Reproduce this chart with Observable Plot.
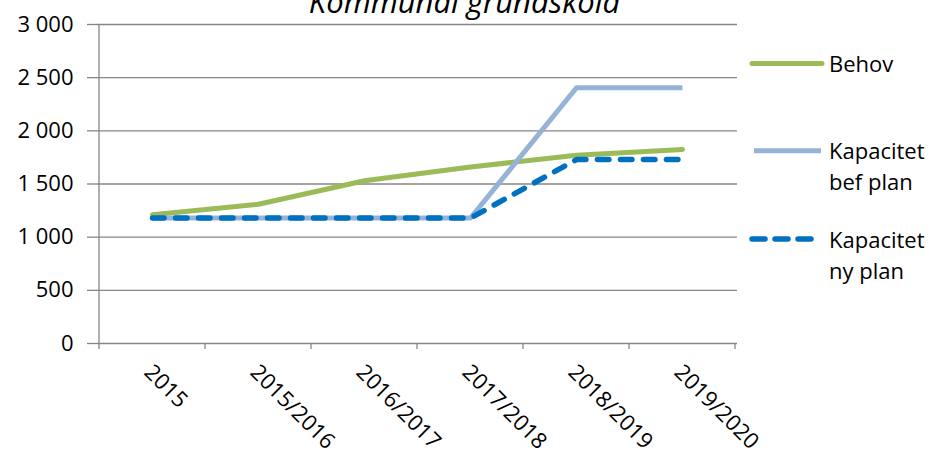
<!DOCTYPE html>
<html>
<head>
<meta charset="utf-8">
<script src="https://cdn.jsdelivr.net/npm/d3@7"></script>
<script src="https://cdn.jsdelivr.net/npm/@observablehq/plot@0.6"></script>
<style>
  html, body { margin: 0; padding: 0; background: #fff; }
  #wrap { position: relative; width: 935px; height: 460px; overflow: hidden; font-family: "Open Sans", sans-serif; }
  #wrap > svg { position: absolute; left: 0; top: 0; }
  #overlay { pointer-events: none; }
</style>
</head>
<body>
<div id="wrap"></div>
<script>
// ---- data ----
const title = "Kommunal grundskola";
const categories = ["2015", "2015/2016", "2016/2017", "2017/2018", "2018/2019", "2019/2020"];
const behov  = [1210, 1310, 1530, 1660, 1770, 1825];
const kapBef = [1180, 1180, 1180, 1180, 2405, 2405];
const kapNy  = [1180, 1180, 1180, 1180, 1730, 1730];
const yTicks = [0, 500, 1000, 1500, 2000, 2500, 3000];
const seriesNames = ["Behov", "Kapacitet bef plan", "Kapacitet ny plan"];
const legendLines = [["Behov"], ["Kapacitet", "bef plan"], ["Kapacitet", "ny plan"]];
const colors = ["#9BBB59", "#95B3D7", "#0070C0"];

const rows = (vals, s) => categories.map((c, i) => ({cat: c, series: s, value: vals[i]}));
const dBehov = rows(behov, seriesNames[0]);
const dBef = rows(kapBef, seriesNames[1]);
const dNy = rows(kapNy, seriesNames[2]);

const locale = d3.formatLocale({decimal: ",", thousands: "\u00a0", grouping: [3], currency: ["", ""]});
const fmt = locale.format(",d");

const grid = "#868686";

const plot = Plot.plot({
  width: 935,
  height: 460,
  marginLeft: 97,
  marginRight: 198,
  marginTop: 24,
  marginBottom: 117,
  style: {fontFamily: '"Open Sans", sans-serif', fontSize: "22px", color: "#000", background: "transparent", overflow: "visible"},
  x: {type: "point", domain: categories, padding: 0.5, axis: null},
  y: {domain: [0, 3000]},
  marks: [
    Plot.ruleY(yTicks, {stroke: grid, strokeWidth: 1.3}),
    Plot.axisY({ticks: yTicks, tickFormat: fmt, tickSize: 10, tickPadding: 14, stroke: grid, strokeWidth: 1.3, fontSize: 22, label: null}),
    Plot.text(categories, {x: d => d, frameAnchor: "bottom", dy: 25, dx: -4.5, rotate: 45, textAnchor: "start", lineAnchor: "middle", fontSize: 22, fill: "#000"}),
    Plot.line(dBehov, {x: "cat", y: "value", stroke: colors[0], strokeWidth: 5, strokeLinecap: "round", strokeLinejoin: "round"}),
    Plot.line(dBef, {x: "cat", y: "value", stroke: colors[1], strokeWidth: 5, strokeLinecap: "butt", strokeLinejoin: "round"}),
    Plot.line(dNy, {x: "cat", y: "value", stroke: colors[2], strokeWidth: 5.5, strokeLinecap: "round", strokeLinejoin: "round", strokeDasharray: "11.5,11.5"})
  ]
});

// axis line and category boundary ticks derived from Plot's scales
const xs = plot.scale("x"), ys = plot.scale("y");
const centers = categories.map(c => xs.apply(c));
const step = centers[1] - centers[0];
const bounds = [...centers.map(c => c - step / 2), centers[centers.length - 1] + step / 2];
const y0 = ys.apply(0), yTop = ys.apply(3000);
const ag = d3.select(plot).append("g").attr("stroke", grid).attr("stroke-width", 1.3);
ag.append("line").attr("x1", bounds[0]).attr("x2", bounds[0]).attr("y1", yTop).attr("y2", y0);
bounds.forEach(b => ag.append("line").attr("x1", b).attr("x2", b).attr("y1", y0).attr("y2", y0 + 6));

const wrap = document.getElementById("wrap");
wrap.appendChild(plot);

// title and legend overlay
const ov = d3.select(wrap).append("svg").attr("id", "overlay")
  .attr("width", 935).attr("height", 460)
  .style("font-family", '"Open Sans", sans-serif');
ov.append("text").attr("x", 464.5).attr("y", 12.5).attr("text-anchor", "middle")
  .attr("font-size", 31).attr("font-style", "italic").attr("fill", "#000").text(title);

const legY = [63.5, 150.7, 239];
const legX = [[752, 822], [754, 821], [752, 813]];
legendLines.forEach((lines, i) => {
  const ln = ov.append("line").attr("x1", legX[i][0]).attr("x2", legX[i][1]).attr("y1", legY[i]).attr("y2", legY[i])
    .attr("stroke", colors[i]).attr("stroke-width", i === 2 ? 5.5 : 5)
    .attr("stroke-linecap", i === 1 ? "butt" : "round");
  if (i === 2) ln.attr("stroke-dasharray", "13,10");
  lines.forEach((t, j) => {
    ov.append("text").attr("x", 829).attr("y", legY[i] + 8.5 + j * 31)
      .attr("font-size", 22).attr("fill", "#000").text(t);
  });
});
</script>
</body>
</html>
